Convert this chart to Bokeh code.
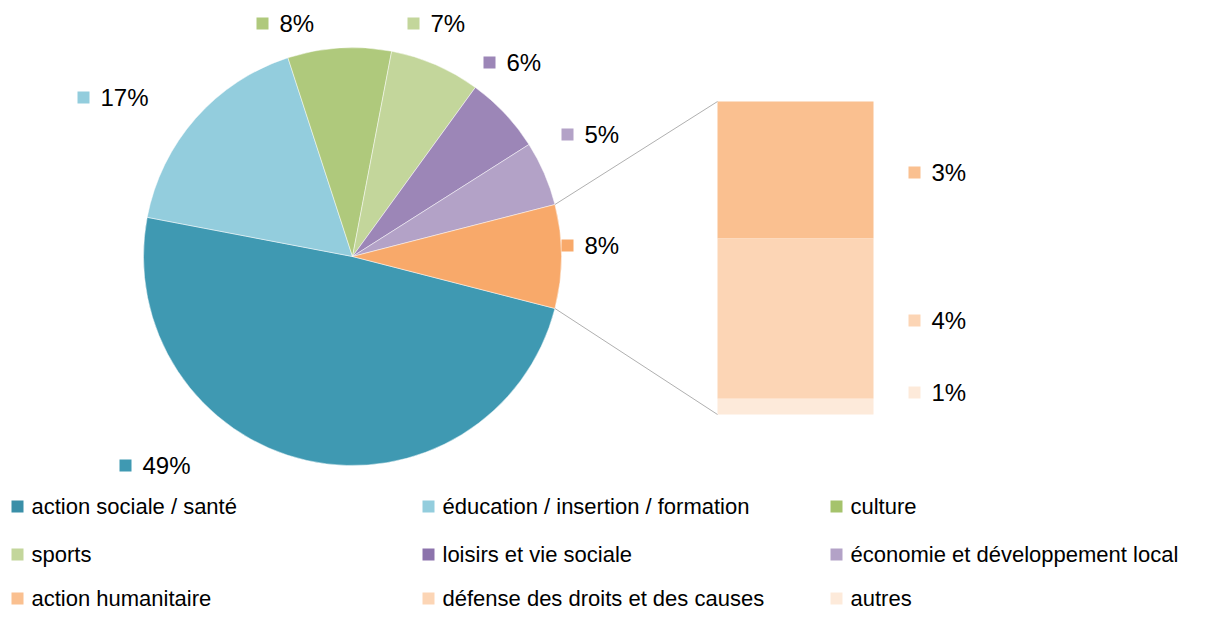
import numpy as np
from bokeh.plotting import figure
from bokeh.models import Range1d
from bokeh.embed import file_html
from bokeh.resources import INLINE
from bokeh.core.properties import value

# ---------------- data ----------------
pie_categories = ["action sociale / santé", "éducation / insertion / formation", "culture",
                  "sports", "loisirs et vie sociale", "économie et développement local",
                  "autres domaines"]
pie_values = [49, 17, 8, 7, 6, 5, 8]
pie_labels = ["49%", "17%", "8%", "7%", "6%", "5%", "8%"]

bar_categories = ["action humanitaire", "défense des droits et des causes", "autres"]
bar_values = [3.5, 4.1, 0.4]
bar_labels = ["3%", "4%", "1%"]

legend_categories = pie_categories[:6] + bar_categories

# ---------------- styles ----------------
pie_colors = ["#3F99B2", "#93CDDD", "#AFC97C", "#C3D69B", "#9C86B7", "#B3A2C7", "#F8A96A"]
bar_colors = ["#FAC090", "#FCD5B5", "#FDEADA"]
legend_colors = ["#3A8FA8", "#93CDDD", "#A5C36C", "#C3D69B", "#8C73AC", "#B3A2C7",
                 "#FAC090", "#FCD5B5", "#FDEADA"]
FONT = value("Liberation Sans")

# ---------------- layout (reference pixel positions) ----------------
W, H = 1193, 610
CX, CY, R = 352, 256, 209
BAR_LEFT, BAR_RIGHT, BAR_TOP, BAR_BOTTOM = 717, 873, 101, 414
pie_label_pos = [(125, 465), (83, 97), (262, 23), (413, 23), (489, 62), (567, 134), (567, 245)]
bar_label_x = 914
bar_label_y = [172, 320, 392]
legend_col_x = [17, 428, 836]
legend_row_y = [506, 554, 598]
TEXT_GAP = 17

p = figure(width=W, height=H, x_range=Range1d(0, W), y_range=Range1d(-H, 0),
           output_backend="svg", toolbar_location=None, min_border=0,
           x_axis_location=None, y_axis_location=None)
p.grid.visible = False
p.outline_line_color = None
p.background_fill_color = "white"
p.border_fill_color = "white"

# ---------------- pie ----------------
vals = np.array(pie_values, dtype=float)
k = 2 * np.pi / vals.sum()
s0 = -vals[-1] / 2 * k          # the detached "other" slice is centred on the right
cum = np.concatenate([[0], np.cumsum(vals)])
starts = s0 - cum[:-1] * k       # clockwise drawing, as in the original
ends = s0 - cum[1:] * k
p.wedge(x=[CX] * len(vals), y=[-CY] * len(vals), radius=R,
        start_angle=ends, end_angle=starts,
        fill_color=pie_colors, line_color="white", line_width=0.8, line_alpha=0.6)

# ---------------- stacked bar (breakdown of the last slice) ----------------
bvals = np.array(bar_values, dtype=float)
scale = (BAR_BOTTOM - BAR_TOP) / bvals.sum()
p.extra_y_ranges = {"bar": Range1d(-(H - BAR_BOTTOM) / scale, BAR_BOTTOM / scale)}
rev = bvals[::-1]
bottoms = np.concatenate([[0], np.cumsum(rev)[:-1]])[::-1]
tops = bottoms + bvals
p.vbar(x=[(BAR_LEFT + BAR_RIGHT) / 2] * len(bvals), width=BAR_RIGHT - BAR_LEFT,
       bottom=bottoms, top=tops, fill_color=bar_colors, line_color=None,
       y_range_name="bar")

# connector lines
a_top, a_bot = -s0, s0
p.segment(x0=[CX + R * np.cos(a_top), CX + R * np.cos(a_bot)],
          y0=[-CY + R * np.sin(a_top), -CY + R * np.sin(a_bot)],
          x1=[BAR_LEFT, BAR_LEFT], y1=[-BAR_TOP, -BAR_BOTTOM],
          line_color="#B0B0B0", line_width=1)

# ---------------- data labels ----------------
lx = [q[0] for q in pie_label_pos]
ly = [-q[1] for q in pie_label_pos]
p.scatter(x=lx, y=ly, marker="square", size=12, color=pie_colors, line_color=None)
p.text(x=[v + TEXT_GAP for v in lx], y=ly, text=pie_labels, text_font=FONT,
       text_font_size="24px", text_baseline="middle", text_align="left", text_color="black")

bx = [bar_label_x] * len(bar_labels)
by = [-v for v in bar_label_y]
p.scatter(x=bx, y=by, marker="square", size=12, color=bar_colors, line_color=None)
p.text(x=[v + TEXT_GAP for v in bx], y=by, text=bar_labels, text_font=FONT,
       text_font_size="24px", text_baseline="middle", text_align="left", text_color="black")

# ---------------- legend ----------------
gx, gy = [], []
for i in range(len(legend_categories)):
    gx.append(legend_col_x[i % 3])
    gy.append(-legend_row_y[i // 3])
p.scatter(x=gx, y=gy, marker="square", size=12, color=legend_colors, line_color=None)
p.text(x=[v + 14 for v in gx], y=gy, text=legend_categories, text_font=FONT,
       text_font_size="22px", text_baseline="middle", text_align="left", text_color="black")

open("out.html", "w").write(file_html(p, INLINE))
